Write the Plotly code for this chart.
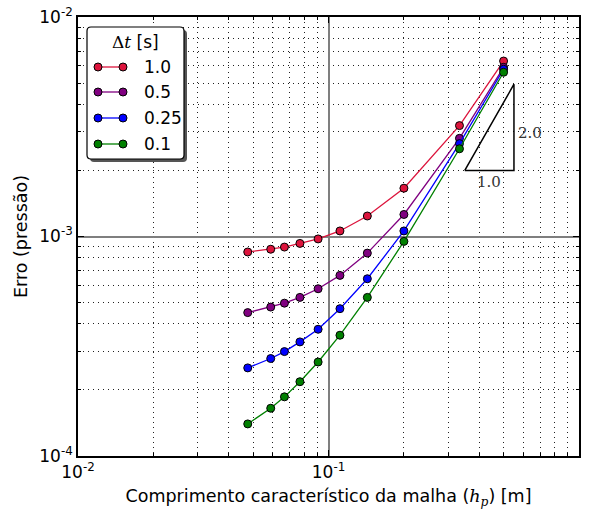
import plotly.graph_objects as go
import math

# ---------------- data ----------------
h_p = [0.0476, 0.0588, 0.0667, 0.0769, 0.0909, 0.1111, 0.1429, 0.2, 0.3333, 0.5]
dt_labels = ["1.0", "0.5", "0.25", "0.1"]
err_dt_1_0 = [8.5e-4, 8.75e-4, 8.95e-4, 9.3e-4, 9.75e-4, 1.06e-3, 1.24e-3, 1.66e-3, 3.2e-3, 6.3e-3]
err_dt_0_5 = [4.5e-4, 4.77e-4, 4.97e-4, 5.28e-4, 5.78e-4, 6.65e-4, 8.4e-4, 1.26e-3, 2.8e-3, 5.9e-3]
err_dt_0_25 = [2.52e-4, 2.78e-4, 2.99e-4, 3.31e-4, 3.78e-4, 4.69e-4, 6.42e-4, 1.06e-3, 2.65e-3, 5.78e-3]
err_dt_0_1 = [1.40e-4, 1.65e-4, 1.86e-4, 2.18e-4, 2.68e-4, 3.55e-4, 5.28e-4, 9.5e-4, 2.51e-3, 5.6e-3]
series = [err_dt_1_0, err_dt_0_5, err_dt_0_25, err_dt_0_1]
colors = ["crimson", "#800080", "#0000ff", "#008000"]

tri_x = [0.35, 0.55, 0.55, 0.35]
tri_y = [2.0e-3, 2.0e-3, 4.94e-3, 2.0e-3]
run_label, rise_label = "1.0", "2.0"
run_label_pos = (0.4375, 1.77e-3)
rise_label_pos = (0.635, 2.95e-3)

x_ticks = [0.01, 0.1, 1.0]
x_ticktext = ["10<sup>-2</sup>", "10<sup>-1</sup>", "10<sup>0</sup>"]
y_ticks = [1e-4, 1e-3, 1e-2]
y_ticktext = ["10<sup>-4</sup>", "10<sup>-3</sup>", "10<sup>-2</sup>"]
x_minor = [k * 10 ** e for e in (-2, -1) for k in range(2, 10)]
y_minor = [k * 10 ** e for e in (-4, -3) for k in range(2, 10)]

# ---------------- layout geometry ----------------
W_FIG, H_FIG = 591, 513
L, R, T, B = 78, 579, 17, 456
PW, PH = R - L, B - T


def px(x):
    return (x - L) / PW


def py(y):
    return (B - y) / PH


FONT = "DejaVu Sans"
SERIF = "DejaVu Serif"

fig = go.Figure()
for lab, ys, col in zip(dt_labels, series, colors):
    fig.add_trace(go.Scatter(
        x=h_p, y=ys, mode="lines+markers", name=lab,
        line=dict(color=col, width=1.3),
        marker=dict(symbol="circle", size=8, color=col, line=dict(color="black", width=1)),
        showlegend=False,
    ))

fig.add_trace(go.Scatter(x=tri_x, y=tri_y, mode="lines",
                         line=dict(color="black", width=1.5), showlegend=False))

shapes = []
annotations = []

# slope labels
for txt, pos in ((run_label, run_label_pos), (rise_label, rise_label_pos)):
    annotations.append(dict(x=math.log10(pos[0]), y=math.log10(pos[1]),
                            xref="x", yref="y", text=txt, showarrow=False,
                            xanchor="center", yanchor="middle",
                            font=dict(family=SERIF, size=15, color="#333333")))


# legend box (custom, matplotlib-like)
def rounded_rect(x0, y0, x1, y1, r):
    rx, ry = r / PW, r / PH
    X0, X1 = px(x0), px(x1)
    Y0, Y1 = py(y0), py(y1)  # Y0 top (larger), Y1 bottom
    return (f"M {X0+rx},{Y0} L {X1-rx},{Y0} Q {X1},{Y0} {X1},{Y0-ry} "
            f"L {X1},{Y1+ry} Q {X1},{Y1} {X1-rx},{Y1} L {X0+rx},{Y1} "
            f"Q {X0},{Y1} {X0},{Y1+ry} L {X0},{Y0-ry} Q {X0},{Y0} {X0+rx},{Y0} Z")


bx0, by0, bx1, by1 = 87, 27, 184, 159
shapes.append(dict(type="path", xref="paper", yref="paper",
                   path=rounded_rect(bx0 + 3, by0 + 3, bx1 + 3, by1 + 3, 4),
                   fillcolor="#555555", line=dict(width=0), layer="above"))
shapes.append(dict(type="path", xref="paper", yref="paper",
                   path=rounded_rect(bx0, by0, bx1, by1, 4),
                   fillcolor="white", line=dict(color="black", width=1.2), layer="above"))

annotations.append(dict(x=px(135), y=py(42), xref="paper", yref="paper",
                        xanchor="center", yanchor="middle",
                        text=f"<span style='font-family:{SERIF}'>Δ<i>t</i></span> [s]",
                        showarrow=False, font=dict(family=FONT, size=17, color="black")))
row_y = [67, 92, 118, 144]
for lab, col, yy in zip(dt_labels, colors, row_y):
    shapes.append(dict(type="line", xref="paper", yref="paper",
                       x0=px(98), x1=px(123), y0=py(yy), y1=py(yy),
                       line=dict(color=col, width=1.3), layer="above"))
    for xx in (98, 123):
        shapes.append(dict(type="circle", xref="paper", yref="paper",
                           xsizemode="pixel", ysizemode="pixel",
                           xanchor=px(xx), yanchor=py(yy),
                           x0=-4, x1=4, y0=-4, y1=4,
                           fillcolor=col, line=dict(color="black", width=1), layer="above"))
    annotations.append(dict(x=px(142), y=py(yy), xref="paper", yref="paper",
                            xanchor="left", yanchor="middle", text=lab, showarrow=False,
                            font=dict(family=FONT, size=17, color="black")))

axis_common = dict(
    type="log", showline=True, linecolor="black", linewidth=1.6, mirror="allticks",
    ticks="inside", ticklen=6, tickwidth=1, tickcolor="black",
    showgrid=True, gridcolor="#7f7f7f", gridwidth=1.5, zeroline=False,
    tickfont=dict(family=FONT, size=17, color="black"),
)
minor_common = dict(tickmode="array", ticks="inside", ticklen=3, tickcolor="black",
                    showgrid=True, gridcolor="#222222", griddash="1px,4px", gridwidth=1)

fig.update_layout(
    width=W_FIG, height=H_FIG,
    margin=dict(l=L, r=W_FIG - R, t=T, b=H_FIG - B, autoexpand=False),
    paper_bgcolor="white", plot_bgcolor="white",
    font=dict(family=FONT, size=17, color="black"),
    showlegend=False,
    xaxis=dict(**axis_common, range=[-2, 0], tickmode="array", tickvals=x_ticks, ticktext=x_ticktext,
               minor=dict(**minor_common, tickvals=x_minor),
               title=dict(text=f"Comprimento característico da malha (<span style='font-family:{SERIF}'><i>h</i><sub><i>p</i></sub></span>) [m]",
                          font=dict(family=FONT, size=17.5), standoff=9)),
    yaxis=dict(**axis_common, range=[-4, -2], tickmode="array", tickvals=y_ticks, ticktext=y_ticktext,
               minor=dict(**minor_common, tickvals=y_minor),
               title=dict(text="Erro (pressão)", font=dict(family=FONT, size=17.5), standoff=7)),
    shapes=shapes,
    annotations=annotations,
)

fig.write_html("out.html")
